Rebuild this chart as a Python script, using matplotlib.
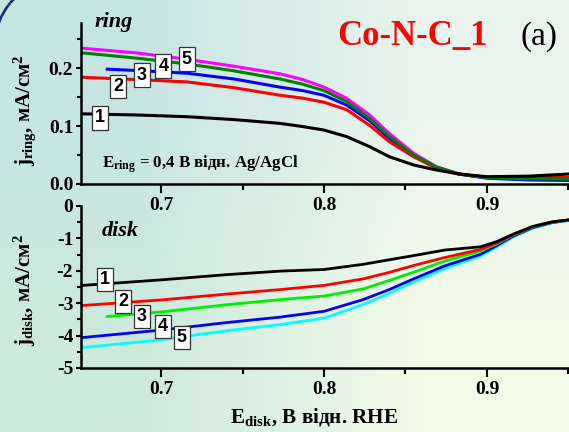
import numpy as np
import matplotlib
matplotlib.use("Agg")
import matplotlib.pyplot as plt
from matplotlib.patches import Arc
from matplotlib.ticker import MultipleLocator, FormatStrFormatter

W, H = 569, 432

# ---- ring currents (mA/cm2) vs E_disk (V vs RHE)
ring_x = [0.652, 0.685, 0.716, 0.745, 0.773, 0.787, 0.800, 0.814, 0.828, 0.840,
          0.855, 0.869, 0.883, 0.900, 0.925, 0.950]
ring_1 = [0.121, 0.119, 0.116, 0.111, 0.1045, 0.099, 0.093, 0.0816, 0.0644, 0.0471,
          0.0328, 0.0241, 0.0172, 0.0126, 0.0135, 0.0172]
ring_2 = [0.184, 0.180, 0.176, 0.166, 0.153, 0.148, 0.141, 0.128, 0.101, 0.073,
          0.047, 0.027, 0.017, 0.0115, 0.011, 0.0115]
ring_4 = [0.226, 0.217, 0.207, 0.195, 0.181, 0.172, 0.161, 0.142, 0.113, 0.082,
          0.050, 0.029, 0.017, 0.011, 0.009, 0.0085]
ring_5 = [0.234, 0.226, 0.215, 0.203, 0.190, 0.180, 0.167, 0.1477, 0.119, 0.0873,
          0.0529, 0.0299, 0.0172, 0.0115, 0.009, 0.008]
ring3_x = [0.667, 0.690, 0.716, 0.745, 0.773, 0.787, 0.800, 0.814, 0.828, 0.840,
           0.855, 0.869, 0.883, 0.900, 0.925, 0.950]
ring_3 = [0.198, 0.195, 0.191, 0.181, 0.167, 0.161, 0.153, 0.136, 0.109, 0.079,
          0.049, 0.028, 0.017, 0.010, 0.007, 0.006]

# ---- disk currents (mA/cm2)
disk_x = [0.652, 0.700, 0.740, 0.773, 0.800, 0.824, 0.840, 0.854, 0.874, 0.896,
          0.906, 0.916, 0.928, 0.940, 0.950]
disk_1 = [-2.45, -2.28, -2.12, -2.01, -1.96, -1.80, -1.66, -1.54, -1.36, -1.26,
          -1.10, -0.87, -0.63, -0.49, -0.43]
disk_2 = [-3.07, -2.90, -2.72, -2.58, -2.45, -2.25, -2.05, -1.85, -1.59, -1.34,
          -1.14, -0.89, -0.64, -0.49, -0.43]
disk_4 = [-4.06, -3.83, -3.60, -3.43, -3.25, -2.89, -2.58, -2.27, -1.85, -1.49,
          -1.22, -0.93, -0.67, -0.51, -0.44]
disk_5 = [-4.37, -4.13, -3.85, -3.66, -3.46, -3.04, -2.70, -2.37, -1.94, -1.54,
          -1.26, -0.96, -0.69, -0.52, -0.45]
disk3_x = [0.667, 0.700, 0.740, 0.773, 0.800, 0.824, 0.840, 0.854, 0.874, 0.896,
           0.906, 0.916, 0.928, 0.940, 0.950]
disk_3 = [-3.41, -3.27, -3.05, -2.89, -2.78, -2.56, -2.30, -2.06, -1.70, -1.39,
          -1.17, -0.90, -0.65, -0.50, -0.43]

labels = ["1", "2", "3", "4", "5"]
ring_lab_xy = [(0.6626, 0.1138), (0.6738, 0.1678), (0.6882, 0.1879),
               (0.7014, 0.2034), (0.7158, 0.2155)]
disk_lab_xy = [(0.6656, -2.27), (0.6769, -2.95), (0.6882, -3.42),
               (0.7010, -3.73), (0.7127, -4.07)]

plt.rcParams["font.family"] = "Liberation Serif"
plt.rcParams["font.weight"] = "bold"
plt.rcParams["axes.unicode_minus"] = False
plt.rcParams["mathtext.fontset"] = "custom"
plt.rcParams["mathtext.rm"] = "Liberation Serif:bold"
plt.rcParams["mathtext.bf"] = "Liberation Serif:bold"
plt.rcParams["mathtext.it"] = "Liberation Serif:bold:italic"

fig = plt.figure(figsize=(W / 100, H / 100), dpi=100)

# background gradient + corner of the slide frame
bg = fig.add_axes([0, 0, 1, 1], zorder=-5)
grad = np.array([[[0.78, 0.90, 0.89], [0.92, 0.96, 0.935]],
                 [[0.80, 0.915, 0.865], [0.95, 0.985, 0.91]]])
bg.imshow(grad, extent=(0, W, H, 0), interpolation="bilinear", aspect="auto")
bg.add_patch(Arc((60, 44.8), 130, 130, theta1=185, theta2=250,
                 color="#1f2d78", lw=1.9))
bg.set_xlim(0, W); bg.set_ylim(H, 0); bg.axis("off")

xlim = (0.6509, 0.954)
ax1 = fig.add_axes([81 / W, 1 - 184 / H, 494 / W, 161 / H])
ax2 = fig.add_axes([81 / W, 1 - 368 / H, 494 / W, 162 / H])

for ax in (ax1, ax2):
    ax.set_facecolor("none")
    ax.spines[["top", "right"]].set_visible(False)
    ax.spines[["left", "bottom"]].set_linewidth(1.8)
    ax.set_xlim(*xlim)
    ax.xaxis.set_major_locator(MultipleLocator(0.1))
    ax.xaxis.set_minor_locator(MultipleLocator(0.05))
    ax.tick_params(axis="x", which="major", direction="out", length=6.5, width=1.5,
                   labelsize=14, pad=3)
    ax.tick_params(axis="x", which="minor", direction="out", length=4.3, width=1.5)
    ax.tick_params(axis="y", which="major", direction="out", length=3.6, width=1.5,
                   labelsize=14, pad=2)
    ax.tick_params(axis="y", which="minor", direction="out", length=2.6, width=1.5)

# ring panel
for xs, ys, c in [(ring_x, ring_5, "#ff00ff"), (ring3_x, ring_3, "#0000ff"),
                  (ring_x, ring_2, "#ff0000"), (ring_x, ring_4, "#008000"),
                  (ring_x, ring_1, "black")]:
    ax1.plot(xs, ys, color=c, lw=2.2)
ax1.set_ylim(0, 0.2776)
ax1.yaxis.set_major_locator(MultipleLocator(0.1))
ax1.yaxis.set_minor_locator(MultipleLocator(0.05))
ax1.yaxis.set_major_formatter(FormatStrFormatter("%.1f"))

# disk panel
for xs, ys, c in [(disk_x, disk_5, "#00ffff"), (disk_x, disk_4, "#0000ff"),
                  (disk3_x, disk_3, "#00ee00"), (disk_x, disk_2, "#ff0000"),
                  (disk_x, disk_1, "black")]:
    ax2.plot(xs, ys, color=c, lw=2.0)
ax2.set_ylim(-5, 0)
ax2.yaxis.set_major_locator(MultipleLocator(1))
ax2.yaxis.set_minor_locator(MultipleLocator(0.5))

box = dict(boxstyle="square,pad=0.17", fc="white", ec="#333333", lw=0.9)
for ax, pts in ((ax1, ring_lab_xy), (ax2, disk_lab_xy)):
    for lab, (x, y) in zip(labels, pts):
        ax.text(x, y, lab, ha="center", va="center", fontsize=13,
                family="Liberation Sans", weight="bold", bbox=box, zorder=5)

# texts
fig.text(95 / W, 1 - 27 / H, "ring", fontsize=16, style="italic", weight="bold")
fig.text(102 / W, 1 - 236 / H, "disk", fontsize=16, style="italic", weight="bold")
fig.text(337 / W, 1 - 45 / H, "Co-N-C_1", fontsize=25, color="#ff0000", weight="bold")
fig.text(520 / W, 1 - 45 / H, "(a)", fontsize=24, color="black", weight="normal")
fig.text(102 / W, 1 - 168 / H, r"E$_{\mathbf{ring}}$ = 0,4 В відн. Ag/AgCl",
         fontsize=12.2)
fig.text(25 / W, 1 - 110 / H, r"j$_{\mathbf{ring}}$, мА/см$^{\mathbf{2}}$",
         rotation=90, ha="center", va="center", fontsize=15)
fig.text(25 / W, 1 - 290 / H, r"j$_{\mathbf{disk}}$, мА/см$^{\mathbf{2}}$",
         rotation=90, ha="center", va="center", fontsize=15)
fig.text(314 / W, 1 - 422 / H, r"E$_{\mathbf{disk}}$, В відн. RHE",
         ha="center", va="baseline", fontsize=15.2)

fig.savefig("out.png", dpi=100)
